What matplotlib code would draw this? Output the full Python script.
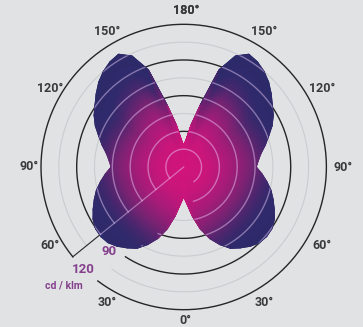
import numpy as np
import matplotlib
matplotlib.use('Agg')
import matplotlib.pyplot as plt
from matplotlib.colors import LinearSegmentedColormap
from matplotlib.patches import Polygon
from matplotlib.collections import LineCollection
import matplotlib.transforms as mtransforms

# luminous intensity curve, symmetric C0-C180 plane (cd/klm)
angles = np.arange(0, 181, 5)
cd_klm = np.array([25, 31, 42, 54, 64, 72, 79, 83, 87, 90,
                   91, 90.5, 88, 84, 80, 76, 71, 66, 61, 63,
                   66, 71, 76, 82, 87, 91, 96, 101, 105, 108,
                   109.5, 103, 87, 54, 36, 23, 18])

ring_values = [15, 30, 45, 60, 75, 90, 105, 120]
dark_rings = [30, 60, 90, 120]
tick_angles = [0, 30, 60, 90, 120, 150, 180]
unit_label = "cd / klm"

BG = '#e1e2e4'
TXT = '#3a3a3a'
PURPLE = '#84408c'
plt.rcParams['font.family'] = ['Roboto', 'DejaVu Sans']

cmap = LinearSegmentedColormap.from_list('lobe', [
    (0.0, '#d2147b'), (0.22, '#c9167b'), (0.4, '#a81c79'),
    (0.56, '#7c2373'), (0.7, '#4a276e'), (0.82, '#302a6b'), (1.0, '#2d2a6a')])

fig = plt.figure(figsize=(3.63, 3.27), dpi=100, facecolor=BG)
ax = fig.add_axes([41 / 363, 17.3 / 327, 285.4 / 363, 285.4 / 327], projection='polar')
ax.set_theta_zero_location('S')
ax.set_theta_direction(1)
ax.set_ylim(0, 120)
ax.axis('off')

# mirror the half curve to get both sides
th_full = np.deg2rad(np.concatenate([angles, 360 - angles[::-1][1:]]))
I_full = np.concatenate([cd_klm, cd_klm[::-1][1:]])
edge_t = np.clip((I_full - 12) / 80.0, 0, 1)

# gradient fill: pink at the centre, navy towards the outer edge
s = np.linspace(0, 1, 80)
T, S = np.meshgrid(th_full, s)
R = S * I_full
C = S * edge_t
ax.pcolormesh(T, R, C, shading='gouraud', cmap=cmap, vmin=0, vmax=1, zorder=2)

# soft outline in the edge colour
pts = np.column_stack([th_full, I_full])
segs = np.stack([pts[:-1], pts[1:]], axis=1)
lc = LineCollection(segs, colors=cmap((edge_t[:-1] + edge_t[1:]) / 2), lw=0.7, zorder=2)
ax.add_collection(lc)

lobe = Polygon(pts, closed=True, transform=ax.transData, fc='none', ec='none')
ax.add_patch(lobe)

# rings, each with a gap near the scale line for its label
scale_ang = -51
gaps = [86, 67, 40, 30, 23, 18, 16, 14]
for r, g in zip(ring_values, gaps):
    th = np.deg2rad(np.linspace(scale_ang + g, 360 + scale_ang, 400))
    if r in dark_rings:
        ax.plot(th, np.full_like(th, r), color='#262626', lw=1.0, clip_on=False, zorder=1)
    else:
        ax.plot(th, np.full_like(th, r), color='#cbcccf', lw=0.8, clip_on=False, zorder=1)
    ov, = ax.plot(th, np.full_like(th, r), color='#f2d4ff', alpha=0.45, lw=1.0, zorder=3)
    ov.set_clip_path(lobe)

ax.plot([np.deg2rad(scale_ang)] * 2, [0, 120], color='#262626', lw=0.8, clip_on=False, zorder=1)
ov, = ax.plot([np.deg2rad(scale_ang)] * 2, [0, 120], color='#f2d4ff', alpha=0.45, lw=0.9, zorder=3)
ov.set_clip_path(lobe)

# angle labels on both sides
shift = mtransforms.offset_copy(ax.transData, fig=fig, x=2, y=0, units='dots')
for a in tick_angles:
    r_lbl = 129 if a == 0 else 132
    for side in {a, -a}:
        ax.text(np.deg2rad(side), r_lbl, f'{a}°', ha='center', va='center', transform=shift,
                fontsize=9, fontweight='bold', color=TXT, clip_on=False)

ax.text(np.deg2rad(-41.6), 94.5, '90', ha='center', va='center',
        fontsize=9.5, fontweight='bold', color=PURPLE, zorder=4, clip_on=False)
ax.text(np.deg2rad(-44.4), 121, '120', ha='center', va='center',
        fontsize=9.5, fontweight='bold', color=PURPLE, zorder=4, clip_on=False)
ax.text(np.deg2rad(-45.2), 142, unit_label, ha='center', va='center',
        fontsize=7.5, fontweight='bold', color=PURPLE, zorder=4, clip_on=False)

fig.savefig('out.png', dpi=100, facecolor=BG)
